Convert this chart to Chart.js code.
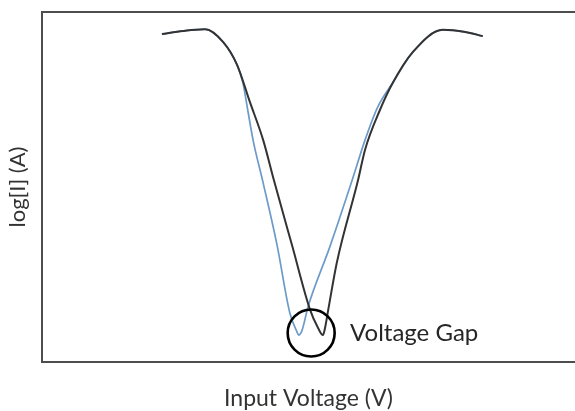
<!DOCTYPE html>
<html>
<head>
<meta charset="utf-8">
<script src="https://cdn.jsdelivr.net/npm/chart.js@4/dist/chart.umd.min.js"></script>
<style>
  html, body { margin: 0; padding: 0; background: #fff; }
  #wrap { width: 575px; height: 411px; }
</style>
</head>
<body>
<div id="wrap"><canvas id="gapChart" width="575" height="411"></canvas></div>
<script>
// Curve traces (arbitrary units, x: 0-100, y: 0-100)
const blackX = [22.5, 26.5, 30.6, 34.0, 36.6, 39.0, 41.5, 43.5, 46.9, 50.3, 51.8, 52.7, 53.1, 53.7, 55.3, 59.3, 60.6, 63.4, 65.9, 69.6, 75.2, 79.4, 82.7];
const blackY = [93.7, 94.6, 95.1, 91.4, 84.9, 74.3, 63.4, 52.0, 33.4, 14.9, 9.7, 7.7, 9.7, 14.9, 28.3, 52.0, 60.6, 72.0, 80.0, 88.6, 94.9, 94.3, 93.1];

const blueX = [22.5, 26.5, 30.6, 34.0, 36.6, 37.7, 38.6, 39.6, 41.5, 44.1, 46.5, 47.7, 48.2, 48.8, 49.9, 54.0, 58.2, 60.6, 63.0, 65.9, 69.6, 75.2, 79.4, 82.7];
const blueY = [93.7, 94.6, 95.1, 91.4, 84.9, 79.7, 72.0, 63.4, 51.1, 33.4, 14.0, 9.1, 7.7, 9.1, 15.7, 32.9, 52.0, 63.4, 72.9, 80.0, 88.6, 94.9, 94.3, 93.1];

// circled region and its label
const gapCircle = [{ x: 50.5, y: 8.3 }];
const gapLabel = { text: 'Voltage Gap', x: 57.8, y: 8.3 };

const xTitle = 'Input Voltage (V)';
const yTitle = 'log[I] (A)';

const FONT = 'Lato, "Open Sans", sans-serif';

function toPoints(xs, ys) {
    return xs.map((x, i) => ({ x: x, y: ys[i] }));
}

// draws the "Voltage Gap" text next to the circle
const gapLabelPlugin = {
    id: 'gapLabel',
    afterDatasetsDraw(chart) {
        const ctx = chart.ctx;
        const px = chart.scales.x.getPixelForValue(gapLabel.x);
        const py = chart.scales.y.getPixelForValue(gapLabel.y);
        ctx.save();
        ctx.font = '24px ' + FONT;
        ctx.fillStyle = '#262626';
        ctx.textAlign = 'left';
        ctx.textBaseline = 'middle';
        ctx.fillText(gapLabel.text, px, py);
        ctx.restore();
    }
};

function initChart() {
    const ctx = document.getElementById('gapChart').getContext('2d');
    new Chart(ctx, {
        type: 'scatter',
        data: {
            datasets: [{
                label: 'blue',
                data: toPoints(blueX, blueY),
                showLine: true,
                borderColor: '#6d9bc9',
                borderWidth: 1.7,
                pointRadius: 0,
                cubicInterpolationMode: 'monotone',
                order: 3
            }, {
                label: 'black',
                data: toPoints(blackX, blackY),
                showLine: true,
                borderColor: '#333333',
                borderWidth: 2,
                pointRadius: 0,
                cubicInterpolationMode: 'monotone',
                order: 2
            }, {
                label: 'gap',
                data: gapCircle,
                showLine: false,
                pointRadius: 23.5,
                pointHoverRadius: 23.5,
                borderColor: '#000000',
                backgroundColor: 'rgba(0,0,0,0)',
                borderWidth: 2.6,
                order: 1
            }]
        },
        options: {
            responsive: false,
            animation: false,
            layout: { padding: 0, autoPadding: false },
            plugins: {
                legend: { display: false },
                tooltip: { enabled: false }
            },
            scales: {
                x: {
                    type: 'linear',
                    position: 'bottom',
                    min: 0,
                    max: 100,
                    grid: { display: false },
                    ticks: { display: false },
                    border: { display: true, color: '#4d4d4d', width: 2 },
                    title: {
                        display: true,
                        text: xTitle,
                        color: '#333333',
                        font: { family: FONT, size: 23, lineHeight: 1 },
                        padding: { top: 0, bottom: 1 }
                    },
                    afterFit(scale) { scale.height = 49; }
                },
                x2: {
                    type: 'linear',
                    position: 'top',
                    min: 0,
                    max: 100,
                    grid: { display: false },
                    ticks: { display: false },
                    border: { display: true, color: '#4d4d4d', width: 2 },
                    afterFit(scale) { scale.height = 12; }
                },
                y: {
                    type: 'linear',
                    min: 0,
                    max: 100,
                    grid: { display: false },
                    ticks: { display: false },
                    border: { display: true, color: '#4d4d4d', width: 2 },
                    title: {
                        display: true,
                        text: yTitle,
                        color: '#333333',
                        font: { family: FONT, size: 22, lineHeight: 1.2 },
                        padding: { top: 5, bottom: 0 }
                    },
                    afterFit(scale) { scale.width = 42; }
                }
            }
        },
        plugins: [gapLabelPlugin]
    });
}

document.addEventListener('DOMContentLoaded', function() {
    initChart();
});
</script>
</body>
</html>
